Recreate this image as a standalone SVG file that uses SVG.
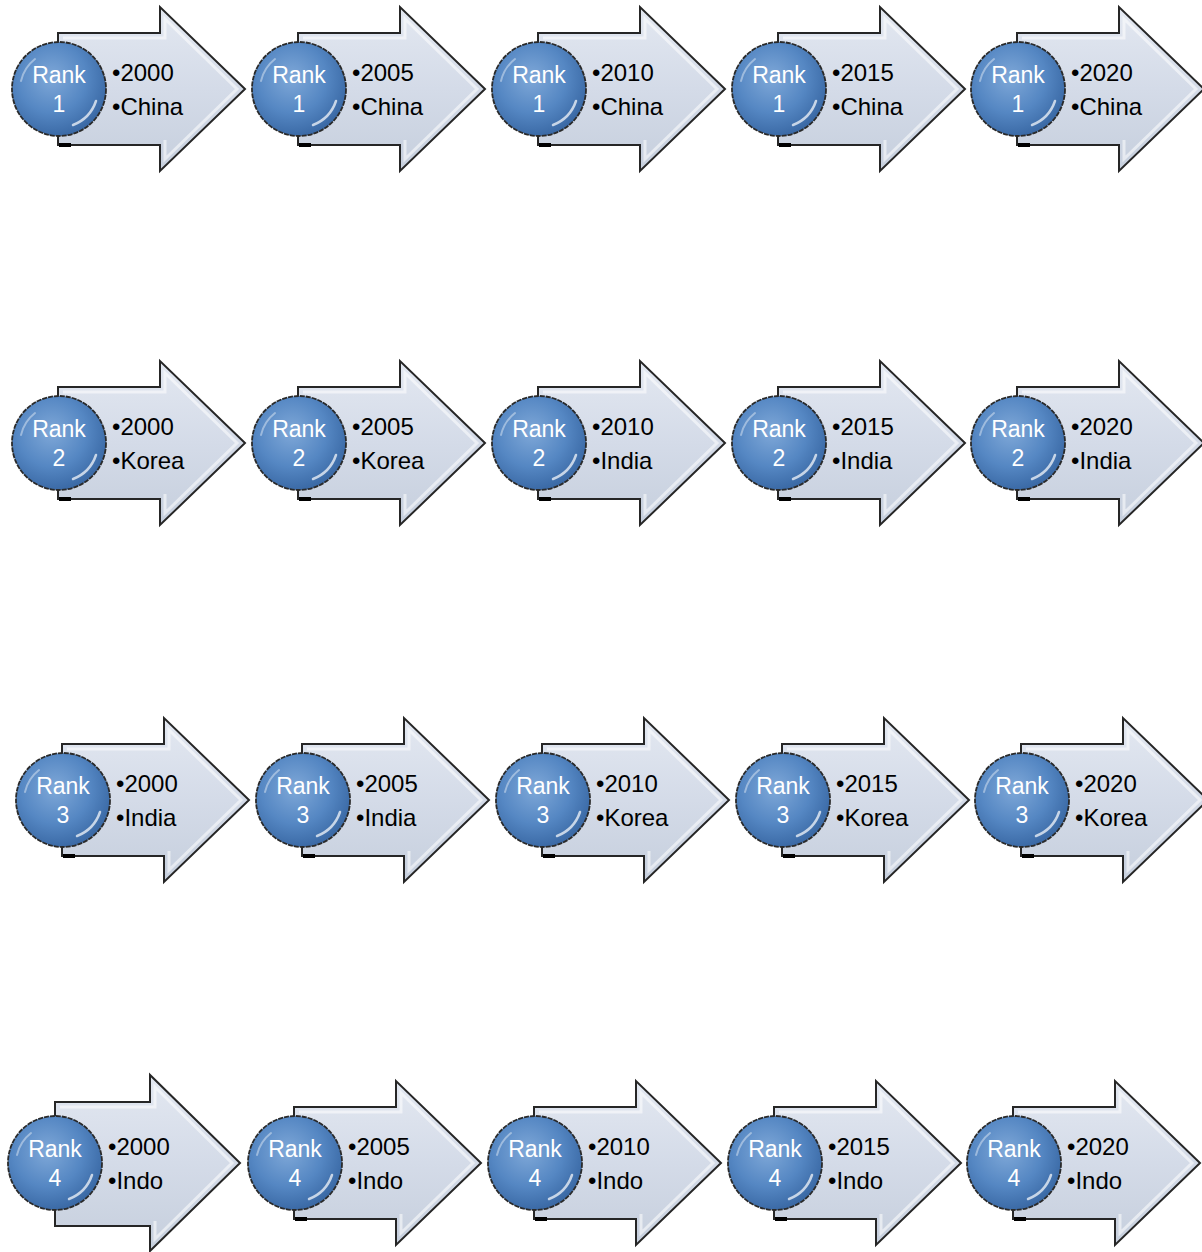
<svg xmlns="http://www.w3.org/2000/svg" xmlns:xlink="http://www.w3.org/1999/xlink" width="1202" height="1252" viewBox="0 0 1202 1252">
<style>
.rk{font-family:"Liberation Sans",Arial,sans-serif;font-size:23px;fill:#ffffff;text-anchor:middle}
.bl{font-family:"Liberation Sans",Arial,sans-serif;font-size:24px;fill:#000000}
</style>
<defs>
<linearGradient id="ag" x1="0" y1="0" x2="0" y2="1">
<stop offset="0" stop-color="#e3e8f1"/>
<stop offset="0.5" stop-color="#d4dbe8"/>
<stop offset="1" stop-color="#c6cfdd"/>
</linearGradient>
<radialGradient id="cg" cx="0.42" cy="0.38" r="0.62">
<stop offset="0" stop-color="#7fa8d8"/>
<stop offset="0.6" stop-color="#5587c3"/>
<stop offset="1" stop-color="#3b6aa6"/>
</radialGradient>
<g id="arrow">
<path d="M -1,-56 H 101 V -82 L 186,0 L 101,82 V 56 H -1 Z" fill="url(#ag)" stroke="#262626" stroke-width="2" stroke-linejoin="miter"/>
<path d="M 4,-51 H 106 V -70 L 178,0 L 106,70 V 51" fill="none" stroke="#ffffff" stroke-opacity="0.55" stroke-width="3"/>
<path d="M 0,56 H 12" stroke="#000" stroke-width="4"/>
</g>
<g id="arrowB">
<path d="M 0,-61 H 95 V -88 L 185,0 L 95,88 V 63 H 0 Z" fill="url(#ag)" stroke="#262626" stroke-width="2"/>
<path d="M 5,-56 H 100 V -76 L 177,0 L 100,76 V 58" fill="none" stroke="#ffffff" stroke-opacity="0.55" stroke-width="3"/>
</g>
<g id="ball">
<circle r="47" fill="url(#cg)" stroke="#2a2a2a" stroke-width="1.8" stroke-dasharray="5 1"/>
<path d="M 37,12 A 39,39 0 0 1 14,36" fill="none" stroke="#ffffff" stroke-opacity="0.7" stroke-width="2.5" stroke-linecap="round"/>
<path d="M -38,-8 A 39,39 0 0 1 -24,-30" fill="none" stroke="#ffffff" stroke-opacity="0.4" stroke-width="2" stroke-linecap="round"/>
</g>
</defs>
<g id="connectors"></g>

<g id="r1c1" transform="translate(59,89)"><use xlink:href="#arrow"/><use xlink:href="#ball"/><text class="rk" x="0" y="-6">Rank</text><text class="rk" x="0" y="23">1</text><text class="bl" x="53" y="-8">•2000</text><text class="bl" x="53" y="26">•China</text></g>
<g id="r1c2" transform="translate(299,89)"><use xlink:href="#arrow"/><use xlink:href="#ball"/><text class="rk" x="0" y="-6">Rank</text><text class="rk" x="0" y="23">1</text><text class="bl" x="53" y="-8">•2005</text><text class="bl" x="53" y="26">•China</text></g>
<g id="r1c3" transform="translate(539,89)"><use xlink:href="#arrow"/><use xlink:href="#ball"/><text class="rk" x="0" y="-6">Rank</text><text class="rk" x="0" y="23">1</text><text class="bl" x="53" y="-8">•2010</text><text class="bl" x="53" y="26">•China</text></g>
<g id="r1c4" transform="translate(779,89)"><use xlink:href="#arrow"/><use xlink:href="#ball"/><text class="rk" x="0" y="-6">Rank</text><text class="rk" x="0" y="23">1</text><text class="bl" x="53" y="-8">•2015</text><text class="bl" x="53" y="26">•China</text></g>
<g id="r1c5" transform="translate(1018,89)"><use xlink:href="#arrow"/><use xlink:href="#ball"/><text class="rk" x="0" y="-6">Rank</text><text class="rk" x="0" y="23">1</text><text class="bl" x="53" y="-8">•2020</text><text class="bl" x="53" y="26">•China</text></g>

<g id="r2c1" transform="translate(59,443)"><use xlink:href="#arrow"/><use xlink:href="#ball"/><text class="rk" x="0" y="-6">Rank</text><text class="rk" x="0" y="23">2</text><text class="bl" x="53" y="-8">•2000</text><text class="bl" x="53" y="26">•Korea</text></g>
<g id="r2c2" transform="translate(299,443)"><use xlink:href="#arrow"/><use xlink:href="#ball"/><text class="rk" x="0" y="-6">Rank</text><text class="rk" x="0" y="23">2</text><text class="bl" x="53" y="-8">•2005</text><text class="bl" x="53" y="26">•Korea</text></g>
<g id="r2c3" transform="translate(539,443)"><use xlink:href="#arrow"/><use xlink:href="#ball"/><text class="rk" x="0" y="-6">Rank</text><text class="rk" x="0" y="23">2</text><text class="bl" x="53" y="-8">•2010</text><text class="bl" x="53" y="26">•India</text></g>
<g id="r2c4" transform="translate(779,443)"><use xlink:href="#arrow"/><use xlink:href="#ball"/><text class="rk" x="0" y="-6">Rank</text><text class="rk" x="0" y="23">2</text><text class="bl" x="53" y="-8">•2015</text><text class="bl" x="53" y="26">•India</text></g>
<g id="r2c5" transform="translate(1018,443)"><use xlink:href="#arrow"/><use xlink:href="#ball"/><text class="rk" x="0" y="-6">Rank</text><text class="rk" x="0" y="23">2</text><text class="bl" x="53" y="-8">•2020</text><text class="bl" x="53" y="26">•India</text></g>

<g id="r3c1" transform="translate(63,800)"><use xlink:href="#arrow"/><use xlink:href="#ball"/><text class="rk" x="0" y="-6">Rank</text><text class="rk" x="0" y="23">3</text><text class="bl" x="53" y="-8">•2000</text><text class="bl" x="53" y="26">•India</text></g>
<g id="r3c2" transform="translate(303,800)"><use xlink:href="#arrow"/><use xlink:href="#ball"/><text class="rk" x="0" y="-6">Rank</text><text class="rk" x="0" y="23">3</text><text class="bl" x="53" y="-8">•2005</text><text class="bl" x="53" y="26">•India</text></g>
<g id="r3c3" transform="translate(543,800)"><use xlink:href="#arrow"/><use xlink:href="#ball"/><text class="rk" x="0" y="-6">Rank</text><text class="rk" x="0" y="23">3</text><text class="bl" x="53" y="-8">•2010</text><text class="bl" x="53" y="26">•Korea</text></g>
<g id="r3c4" transform="translate(783,800)"><use xlink:href="#arrow"/><use xlink:href="#ball"/><text class="rk" x="0" y="-6">Rank</text><text class="rk" x="0" y="23">3</text><text class="bl" x="53" y="-8">•2015</text><text class="bl" x="53" y="26">•Korea</text></g>
<g id="r3c5" transform="translate(1022,800)"><use xlink:href="#arrow"/><use xlink:href="#ball"/><text class="rk" x="0" y="-6">Rank</text><text class="rk" x="0" y="23">3</text><text class="bl" x="53" y="-8">•2020</text><text class="bl" x="53" y="26">•Korea</text></g>

<g id="r4c1" transform="translate(55,1163)"><use xlink:href="#arrowB"/><use xlink:href="#ball"/><text class="rk" x="0" y="-6">Rank</text><text class="rk" x="0" y="23">4</text><text class="bl" x="53" y="-8">•2000</text><text class="bl" x="53" y="26">•Indo</text></g>
<g id="r4c2" transform="translate(295,1163)"><use xlink:href="#arrow"/><use xlink:href="#ball"/><text class="rk" x="0" y="-6">Rank</text><text class="rk" x="0" y="23">4</text><text class="bl" x="53" y="-8">•2005</text><text class="bl" x="53" y="26">•Indo</text></g>
<g id="r4c3" transform="translate(535,1163)"><use xlink:href="#arrow"/><use xlink:href="#ball"/><text class="rk" x="0" y="-6">Rank</text><text class="rk" x="0" y="23">4</text><text class="bl" x="53" y="-8">•2010</text><text class="bl" x="53" y="26">•Indo</text></g>
<g id="r4c4" transform="translate(775,1163)"><use xlink:href="#arrow"/><use xlink:href="#ball"/><text class="rk" x="0" y="-6">Rank</text><text class="rk" x="0" y="23">4</text><text class="bl" x="53" y="-8">•2015</text><text class="bl" x="53" y="26">•Indo</text></g>
<g id="r4c5" transform="translate(1014,1163)"><use xlink:href="#arrow"/><use xlink:href="#ball"/><text class="rk" x="0" y="-6">Rank</text><text class="rk" x="0" y="23">4</text><text class="bl" x="53" y="-8">•2020</text><text class="bl" x="53" y="26">•Indo</text></g>
</svg>
